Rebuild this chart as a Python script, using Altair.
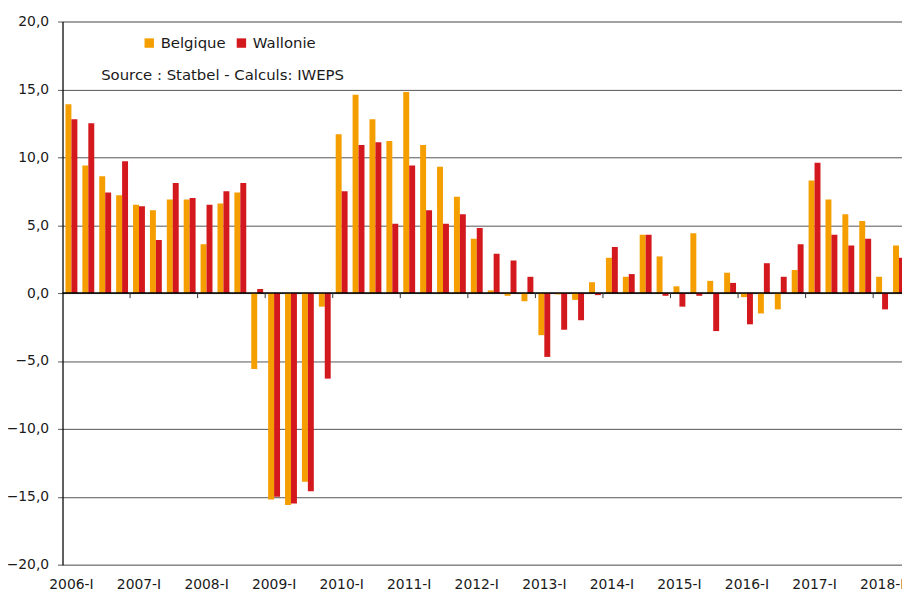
import altair as alt
import pandas as pd

years = list(range(2006, 2019))
roman = ["I", "II", "III", "IV"]
quarters = [f"{y}-{q}" for y in years for q in roman][:50]

belgique = [13.9, 9.4, 8.6, 7.2, 6.5, 6.1, 6.9, 6.9, 3.6, 6.6, 7.4,
            -5.6, -15.2, -15.6, -13.9, -1.0,
            11.7, 14.6, 12.8, 11.2, 14.8, 10.9, 9.3, 7.1,
            4.0, 0.2, -0.2, -0.6, -3.1, -0.1, -0.5, 0.8,
            2.6, 1.2, 4.3, 2.7, 0.5, 4.4, 0.9, 1.5,
            -0.3, -1.5, -1.2, 1.7, 8.3, 6.9, 5.8, 5.3,
            1.2, 3.5]
wallonie = [12.8, 12.5, 7.4, 9.7, 6.4, 3.9, 8.1, 7.0, 6.5, 7.5, 8.1,
            0.3, -15.0, -15.5, -14.6, -6.3,
            7.5, 10.9, 11.1, 5.1, 9.4, 6.1, 5.1, 5.8,
            4.8, 2.9, 2.4, 1.2, -4.7, -2.7, -2.0, -0.15,
            3.4, 1.4, 4.3, -0.2, -1.0, -0.2, -2.8, 0.75,
            -2.3, 2.2, 1.2, 3.6, 9.6, 4.3, 3.5, 4.0,
            -1.2, 2.6]
series = ["Belgique", "Wallonie"]
colors = ["#F59E00", "#D3191E"]
year_labels = [f"{y}-I" for y in years]
source_text = "Source : Statbel - Calculs: IWEPS"

FONT = "DejaVu Sans"
FS = 15
AFS = 14

rows = []
for i, q in enumerate(quarters):
    rows.append({"idx": i, "quarter": q, "series": "Belgique", "value": belgique[i], "off": 0.176})
    rows.append({"idx": i, "quarter": q, "series": "Wallonie", "value": wallonie[i], "off": 0.528})
df = pd.DataFrame(rows)

xdom = [0, 847 / 17.04]
xscale = alt.Scale(domain=xdom, nice=False, zero=False)
yscale = alt.Scale(domain=[-20, 20], nice=False)

label_arr = "[" + ",".join(f"'{s}'" for s in year_labels) + "]"

bars = alt.Chart(df).mark_bar(clip=True).transform_calculate(
    x0="datum.idx + datum.off", x1="datum.idx + datum.off + 0.352"
).encode(
    x=alt.X("x0:Q", scale=xscale,
            axis=alt.Axis(values=[4 * k + 0.5 for k in range(len(years))],
                          labelExpr=f"{label_arr}[round((datum.value - 0.5) / 4)]",
                          title=None, grid=False, ticks=False, domain=False,
                          labelFontSize=AFS, labelFont=FONT,
                          labelColor="#1a1a1a", labelPadding=13,
                          labelOverlap=False, labelBound=False, labelFlush=False)),
    x2="x1:Q",
    y=alt.Y("value:Q", scale=yscale,
            axis=alt.Axis(values=[-20, -15, -10, -5, 0, 5, 10, 15, 20],
                          labelExpr="replace(format(datum.value, '.1f'), '.', ',')",
                          title=None, grid=True, gridColor="#555555", gridWidth=1,
                          tickSize=5, tickColor="#555555", domainColor="#000000",
                          domainWidth=1.2, labelFontSize=AFS, labelFont=FONT,
                          labelColor="#1a1a1a", labelPadding=9)),
    y2=alt.datum(0),
    color=alt.Color("series:N", scale=alt.Scale(domain=series, range=colors),
                    legend=alt.Legend(orient="none", legendX=80, legendY=14,
                                      direction="horizontal", title=None,
                                      symbolType="square", symbolSize=90,
                                      symbolStrokeWidth=0, labelFontSize=FS,
                                      labelFont=FONT,
                                      labelColor="#1a1a1a", columnPadding=8,
                                      labelOffset=4)),
)

zero = alt.Chart(pd.DataFrame({"v": [0]})).mark_rule(color="#000000", strokeWidth=1.5).encode(
    y=alt.Y("v:Q", scale=yscale)
)

tick_df = pd.DataFrame({"b": [4 * k for k in range(1, len(years))]})
ticks = alt.Chart(tick_df).mark_rule(color="#333333", strokeWidth=1, clip=True).encode(
    x=alt.X("b:Q", scale=xscale),
    y=alt.datum(0),
    y2=alt.datum(-0.37),
)

src = alt.Chart(pd.DataFrame({"t": [source_text]})).mark_text(
    align="left", baseline="middle", fontSize=FS, font=FONT, color="#1a1a1a"
).encode(x=alt.value(39), y=alt.value(54), text="t:N")

chart = alt.layer(bars, zero, ticks, src).properties(
    width=847, height=548,
    autosize=alt.AutoSizeParams(type="none"),
    padding={"left": 55, "top": 11, "right": 0, "bottom": 29},
).configure_view(stroke=None).configure(background="white")

chart.save("out.html", embed_options={"renderer": "svg", "actions": False})
